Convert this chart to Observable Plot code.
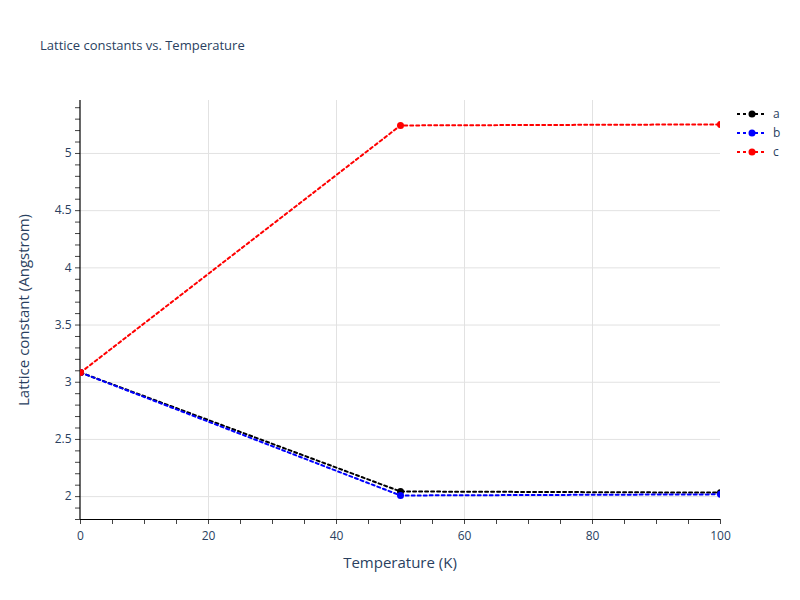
<!DOCTYPE html>
<html>
<head>
<meta charset="utf-8">
<script src="https://cdn.jsdelivr.net/npm/d3@7"></script>
<script src="https://cdn.jsdelivr.net/npm/@observablehq/plot@0.6"></script>
<style>
  html, body { margin: 0; padding: 0; background: #fff; }
  #wrap { position: relative; width: 800px; height: 600px; font-family: "Open Sans", sans-serif; }
  #wrap > svg { position: absolute; left: 0; top: 0; }
  .title { position: absolute; left: 40px; top: 36px; font-size: 13px; color: #2a3f5f; white-space: nowrap; }
  .xtitle { position: absolute; left: 0; width: 800px; top: 552px; text-align: center; font-size: 15px; color: #2a3f5f; }
  .ytitle { position: absolute; left: 23px; top: 310px; font-size: 15px; color: #2a3f5f; transform: translate(-50%, -50%) rotate(-90deg); white-space: nowrap; }
  .legend { position: absolute; left: 735px; top: 104px; font-size: 12px; color: #2a3f5f; }
  .legend .row { height: 19px; display: flex; align-items: center; }
  #wrap .legend svg { position: static; margin-right: 4px; }
</style>
</head>
<body>
<div id="wrap"></div>
<script>
const temperatures = [0, 50, 100];
const seriesNames = ["a", "b", "c"];
const seriesColors = ["#000000", "#0000ff", "#ff0000"];
const aValues = [3.085, 2.045, 2.035];
const bValues = [3.085, 2.010, 2.020];
const cValues = [3.085, 5.245, 5.254];
const xTickLabels = [0, 20, 40, 60, 80, 100];
const yTickLabels = [2, 2.5, 3, 3.5, 4, 4.5, 5];
const xDomain = [0, 100];
const yDomain = [1.8, 5.463];
const xMinorStep = 5;
const yMinorStep = 0.1;

const seriesValues = [aValues, bValues, cValues];
const data = [];
seriesNames.forEach((s, i) => temperatures.forEach((t, j) => data.push({series: s, T: t, v: seriesValues[i][j]})));

const xMinor = d3.range(xDomain[0], xDomain[1] + 1e-9, xMinorStep);
const yMinor = d3.range(0, 60).map(k => +(1.8 + k * yMinorStep).toFixed(2)).filter(v => v >= yDomain[0] - 1e-9 && v <= yDomain[1]);

const plot = Plot.plot({
  width: 800,
  height: 600,
  marginLeft: 80,
  marginRight: 80,
  marginTop: 100,
  marginBottom: 81,
  style: {fontFamily: "Open Sans, sans-serif", background: "white"},
  x: {domain: xDomain},
  y: {domain: yDomain},
  color: {domain: seriesNames, range: seriesColors},
  marks: [
    Plot.gridX(xTickLabels.filter(v => v > xDomain[0] && v < xDomain[1]), {stroke: "#e2e2e2", strokeOpacity: 1, strokeWidth: 1}),
    Plot.gridY(yTickLabels, {stroke: "#e2e2e2", strokeOpacity: 1, strokeWidth: 1}),
    Plot.axisX(xMinor, {tickSize: 5, tickFormat: () => "", stroke: "#444", label: null}),
    Plot.axisY(yMinor, {tickSize: 5, tickFormat: () => "", stroke: "#444", label: null}),
    Plot.axisX(xTickLabels, {tickSize: 0, tickPadding: 12, fontSize: 12, fill: "#2a3f5f", label: null, tickFormat: d => String(d)}),
    Plot.axisY(yTickLabels, {tickSize: 0, tickPadding: 9, fontSize: 12, fill: "#2a3f5f", label: null, tickFormat: d => String(d)}),
    Plot.ruleX([xDomain[0]], {stroke: "#000", strokeWidth: 1.2, dx: -0.5}),
    Plot.ruleY([yDomain[0]], {stroke: "#000", strokeWidth: 1.2}),
    ...seriesNames.flatMap(s => [
      Plot.line(data.filter(d => d.series === s), {x: "T", y: "v", stroke: "series", strokeWidth: 2, strokeDasharray: "3,3", clip: true}),
      Plot.dot(data.filter(d => d.series === s), {x: "T", y: "v", fill: "series", r: 3.5, stroke: null, clip: true})
    ])
  ]
});

const wrap = document.getElementById("wrap");
wrap.appendChild(plot);

const title = document.createElement("div");
title.className = "title";
title.textContent = "Lattice constants vs. Temperature";
wrap.appendChild(title);

const xt = document.createElement("div");
xt.className = "xtitle";
xt.textContent = "Temperature (K)";
wrap.appendChild(xt);

const yt = document.createElement("div");
yt.className = "ytitle";
yt.textContent = "Lattice constant (Angstrom)";
wrap.appendChild(yt);

const legend = document.createElement("div");
legend.className = "legend";
seriesNames.forEach((s, i) => {
  const row = document.createElement("div");
  row.className = "row";
  row.innerHTML = `<svg width="34" height="10"><line x1="2" y1="5" x2="32" y2="5" stroke="${seriesColors[i]}" stroke-width="2" stroke-dasharray="3,3"/><circle cx="17" cy="5" r="3.5" fill="${seriesColors[i]}"/></svg><span>${s}</span>`;
  legend.appendChild(row);
});
wrap.appendChild(legend);
</script>
</body>
</html>
